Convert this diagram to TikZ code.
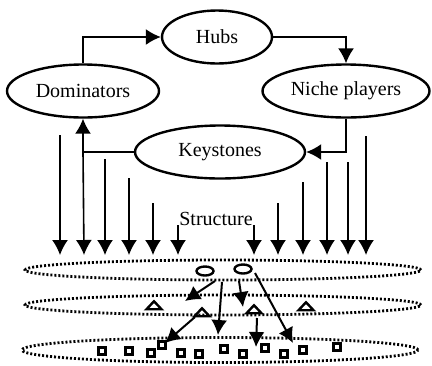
\documentclass[tikz,border=0pt]{standalone}
\usepackage{fontspec}
\setmainfont{Liberation Serif}
\usetikzlibrary{shapes.geometric}
\usetikzlibrary{positioning}
\usetikzlibrary{arrows.meta}
\tikzset{every picture/.style={line width=0.8pt},
role/.style={ellipse,draw,line width=1.2pt,inner sep=1pt,minimum height=26.5pt,font=\fontsize{10}{12}\selectfont},
layer/.style={ellipse,draw,line width=1.4pt,dash pattern=on 1pt off 1pt,minimum width=198pt,minimum height=10pt,inner sep=0pt},
firm/.style={ellipse,draw,line width=1.2pt,minimum width=8.5pt,minimum height=4.5pt,inner sep=0pt},
mid/.style={isosceles triangle,isosceles triangle stretches,shape border rotate=90,draw,line width=1.2pt,minimum width=7.5pt,minimum height=4pt,inner sep=0pt},
leaf/.style={rectangle,draw,line width=1.1pt,minimum size=3.5pt,inner sep=0pt},
flow/.style={-{Latex[length=7.5pt,width=8pt]}}}
\begin{document}
\begin{tikzpicture}[x=0.5pt,y=-0.5pt]
\useasboundingbox (0,0) rectangle (432,365);
\node (hubs) [role,minimum width=55pt] at (217,37) {Hubs};
\node (dom) [role,minimum width=76pt] at (83,91) {Dominators};
\node (niche) [role,minimum width=83.5pt] at (346,91) {Niche players};
\node (key) [role,minimum width=85pt] at (220,152) {Keystones};

\draw[flow] (dom.north) |- (hubs.west);
\draw[flow] (hubs.east) -| (niche.north);
\draw[flow] (niche.south) |- (key.east);
\draw[flow] (key.west) -| (dom.south);

% arrows down to the structure
\coordinate (kd) at (dom.south |- key.west);
\coordinate (kde) at (84,255);
\draw[flow] (kd) -- (kde);
\foreach \x/\y [count=\i] in {60/135,105/159,129/178,153/203,178/225,254/225,278/203,303/182,327/162,348/162,366/136} {
  \coordinate (s\i) at (\x,\y);
  \coordinate (e\i) at (\x,255);
  \draw[flow] (s\i) -- (e\i);
}
\node (struct) [font=\fontsize{10}{12}\selectfont] at (216,219) {Structure};

% layers
\node (top) [layer] at (223,270) {};
\node (midl) [layer] at (223,305) {};
\node (bot) [layer,minimum height=12.5pt] at (220,350) {};

\node (f1) [firm] at (205,271) {};
\node (f2) [firm] at (243,269) {};

\node (t1) [mid] at (154,306) {};
\node (t2) [mid] at (202,313) {};
\node (t3) [mid] at (254,310) {};
\node (t4) [mid] at (306,307) {};

\foreach \x/\y [count=\i] in {102/351,129/351,151/353,162/345,181/353,199/354,224/349,243/354,265/348,284/354,303/350,337/347}
  \node (q\i) [leaf] at (\x,\y) {};

% links between the layers
\coordinate (a1) at (215,281);
\coordinate (b1) at (185,301);
\coordinate (a2) at (222,282);
\coordinate (b2) at (218,335);
\coordinate (a3) at (239,281);
\coordinate (b3) at (243,307);
\coordinate (a4) at (255,273);
\coordinate (b4) at (293,343);
\coordinate (a5) at (195,317);
\coordinate (b5) at (165,343);
\coordinate (a6) at (257,318);
\coordinate (b6) at (256,347);
\foreach \i in {1,...,6}
  \draw[flow,line width=1pt] (a\i) -- (b\i);
\end{tikzpicture}
\end{document}
